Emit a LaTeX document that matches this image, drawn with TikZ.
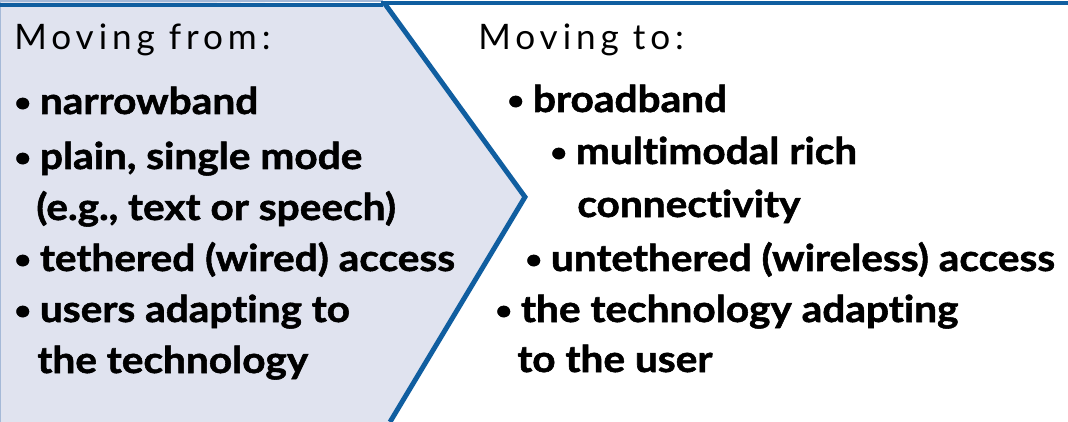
\documentclass[tikz,border=0pt]{standalone}
\usepackage{fontspec}
\setmainfont{Lato}
\newfontfamily\headfont[LetterSpace=14]{Lato}
\newfontfamily\itemfont[Ligatures=NoCommon, BoldFeatures={FakeBold=1.5, FakeStretch=1.1}]{Lato}
\usepackage{tikz}
\usetikzlibrary{positioning}
\definecolor{chevBlue}{RGB}{16, 94, 160}
\definecolor{panelFill}{RGB}{224, 227, 239}
\definecolor{edgeLight}{RGB}{165, 185, 215}
\newcommand{\bul}{\raisebox{1.5pt}{\fontsize{15}{15}\selectfont •}\hspace{5pt}}

\begin{document}
\begin{tikzpicture}[x=0.02cm, y=-0.02cm,
    head/.style={anchor=base west, inner sep=0pt, font=\headfont\fontsize{20}{24}\selectfont},
    item/.style={anchor=base west, inner sep=0pt, font=\itemfont\bfseries\fontsize{21}{24}\selectfont}]
        \useasboundingbox (0, 0) rectangle (1068, 422);
        \coordinate (T) at (385, 4);
        \coordinate (K) at (525, 197); % tip of the chevron
        \coordinate (B) at (390, 422);

        % Left panel
        \fill[panelFill] (0, 0) -- (T) -- (K) -- (B) -- (0, 422) -- cycle;
        \fill[edgeLight] (0, 0) rectangle (383, 2);
        \fill[edgeLight] (0, 0) rectangle (1.5, 422);

        % Blue rules
        \draw[chevBlue, line width=2.8pt] (0, 5) -- (383, 5);
        \draw[chevBlue, line width=2.8pt] (381, 3) -- (1068, 3);
        \draw[chevBlue, line width=2.8pt, line join=miter] (T) -- (K) -- (B);

        % Moving from
        \node[head] (fromHead) at (14, 50) {Moving from:};
        \node[item] (from1) at (14, 114) {\bul narrowband};
        \node[item] (from2) at (14, 169) {\bul plain, single mode};
        \node[item] (from3) at (36, 220) {(e.g., text or speech)};
        \node[item] (from4) at (14, 271) {\bul tethered (wired) access};
        \node[item] (from5) at (14, 322) {\bul users adapting to};
        \node[item] (from6) at (37, 373) {the technology};

        % Moving to
        \node[head] (toHead) at (478, 50) {Moving to:};
        \node[item] (to1) at (507, 112) {\bul broadband};
        \node[item] (to2) at (550, 164) {\bul multimodal rich};
        \node[item] (to3) at (577, 217) {connectivity};
        \node[item] (to4) at (525, 271) {\bul untethered (wireless) access};
        \node[item] (to5) at (495, 322) {\bul the technology adapting};
        \node[item] (to6) at (517, 372) {to the user};
    \end{tikzpicture}
\end{document}
